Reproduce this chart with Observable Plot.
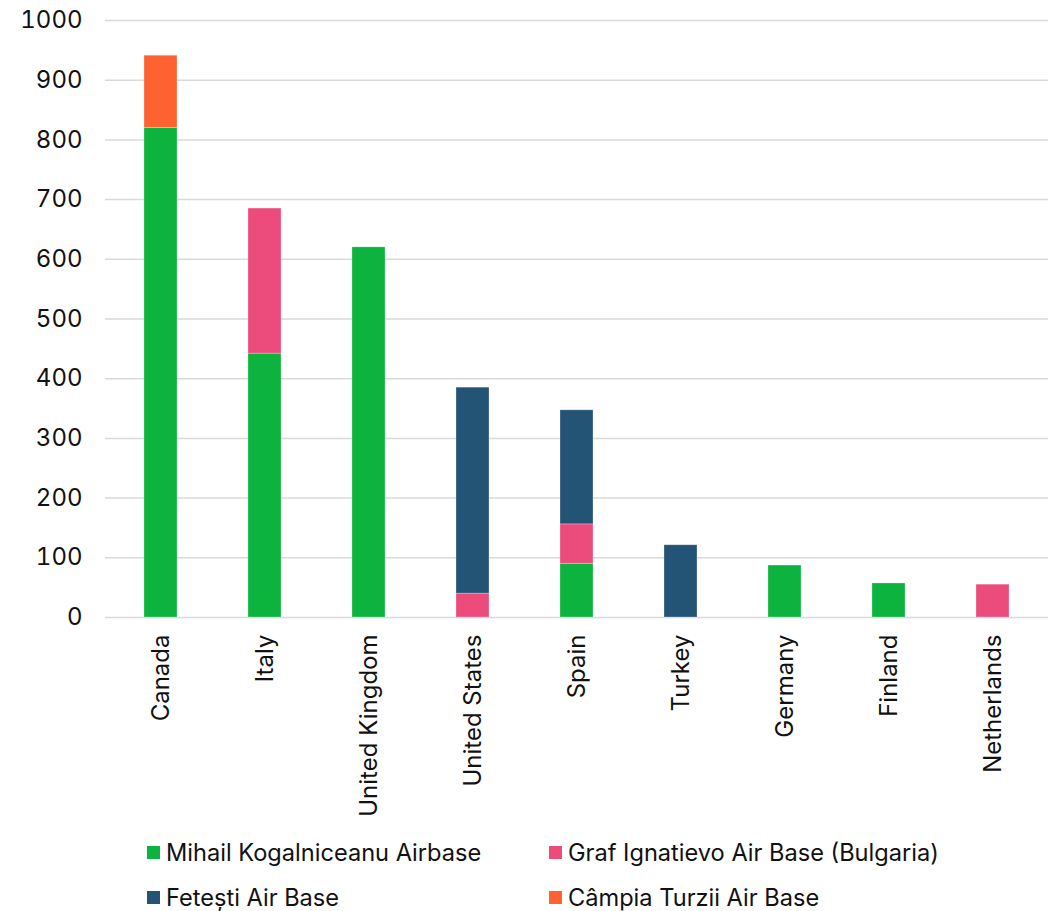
<!DOCTYPE html>
<html>
<head>
<meta charset="utf-8">
<script src="https://cdn.jsdelivr.net/npm/d3@7"></script>
<script src="https://cdn.jsdelivr.net/npm/@observablehq/plot@0.6"></script>
<style>
  html, body { margin: 0; padding: 0; background: #fff; }
  #chart { width: 1058px; font-family: Inter, "Noto Sans", sans-serif; }
  #legend { display: grid; grid-template-columns: 402px 402px; padding-left: 147px; margin-top: 10px; font-family: Inter, sans-serif; font-size: 23.6px; color: #111; }
  .item { display: flex; align-items: center; height: 45px; }
  .sw { width: 13px; height: 13px; margin-right: 6px; flex: none; }
</style>
</head>
<body>
<div id="chart"></div>
<script>
const countries = ["Canada", "Italy", "United Kingdom", "United States", "Spain", "Turkey", "Germany", "Finland", "Netherlands"];
const seriesNames = ["Mihail Kogalniceanu Airbase", "Graf Ignatievo Air Base (Bulgaria)", "Fetești Air Base", "Câmpia Turzii Air Base"];
const seriesColors = ["#0db33f", "#ec4c7c", "#245475", "#fe6231"];
const mihail  = [820, 442, 620, 0, 90, 0, 87, 57, 0];
const graf    = [0, 243, 0, 40, 66, 0, 0, 0, 55];
const fetesti = [0, 0, 0, 345, 191, 121, 0, 0, 0];
const campia  = [121, 0, 0, 0, 0, 0, 0, 0, 0];
const yTicks = [0, 100, 200, 300, 400, 500, 600, 700, 800, 900, 1000];

const seriesValues = [mihail, graf, fetesti, campia];
const rows = [];
seriesNames.forEach((s, si) => {
  countries.forEach((c, ci) => {
    rows.push({country: c, series: s, value: seriesValues[si][ci]});
  });
});

const chart = Plot.plot({
  width: 1058,
  height: 820,
  marginLeft: 105,
  marginRight: 10,
  marginTop: 20,
  marginBottom: 203,
  style: {fontFamily: "Inter, sans-serif", fontSize: "24px", color: "#111", background: "#fff"},
  x: {domain: countries, paddingInner: 0.685, paddingOuter: 0.3425, label: null},
  y: {domain: [0, 1000], label: null},
  color: {domain: seriesNames, range: seriesColors},
  marks: [
    Plot.gridY(yTicks, {stroke: "#d9d9d9", strokeOpacity: 1, strokeWidth: 1.5}),
    Plot.barY(rows, {x: "country", y: "value", fill: "series", order: seriesNames, stroke: "#fff", strokeOpacity: 0.35, strokeWidth: 0.75}),
    Plot.axisY(yTicks, {tickSize: 0, tickPadding: 23, label: null, fontSize: 24, tickFormat: d3.format("d")}),
    Plot.axisX({tickSize: 0, tickPadding: 17, tickRotate: -90, label: null, fontSize: 24})
  ]
});
document.getElementById("chart").appendChild(chart);

const legend = document.createElement("div");
legend.id = "legend";
seriesNames.forEach((s, i) => {
  const item = document.createElement("div");
  item.className = "item";
  const sw = document.createElement("span");
  sw.className = "sw";
  sw.style.background = seriesColors[i];
  const t = document.createElement("span");
  t.textContent = s;
  item.appendChild(sw);
  item.appendChild(t);
  legend.appendChild(item);
});
document.getElementById("chart").appendChild(legend);
</script>
</body>
</html>
